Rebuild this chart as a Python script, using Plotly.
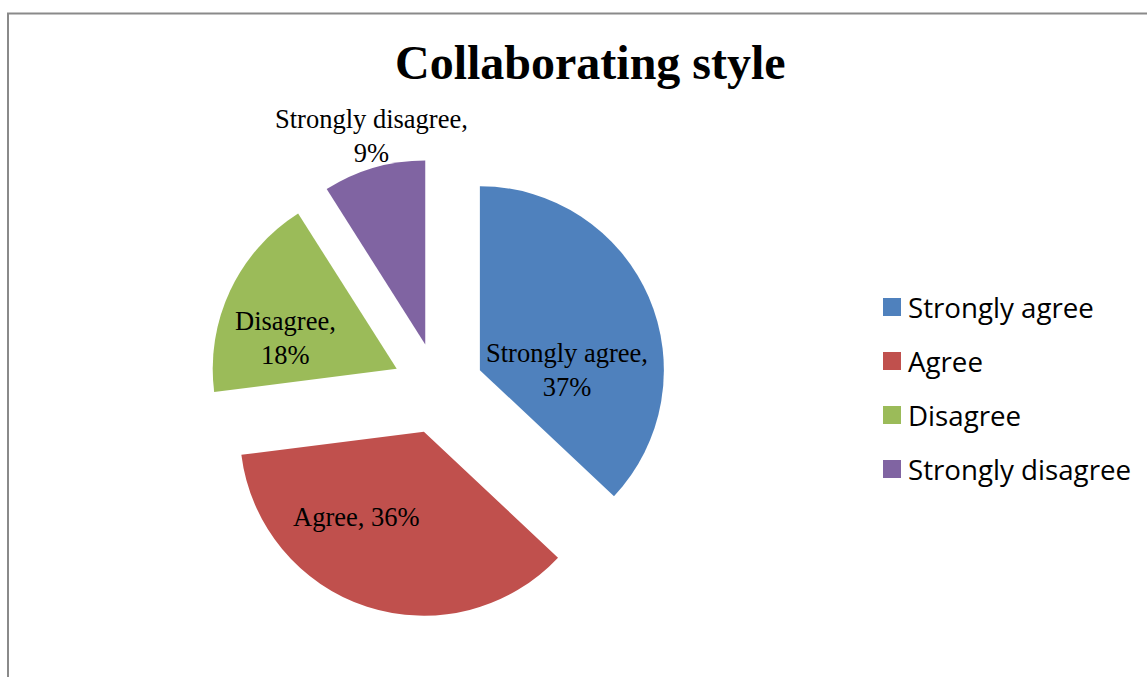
import math
import plotly.graph_objects as go

# ---- data -------------------------------------------------------------
categories = ["Strongly agree", "Agree", "Disagree", "Strongly disagree"]
percentages = [37, 36, 18, 9]
colors = ["#4F81BD", "#C0504D", "#9BBB59", "#8064A2"]
title_text = "Collaborating style"

# ---- layout constants (pixels) ----------------------------------------
W, H = 1147, 677
CX, CY = 438.0, 388.3      # pie centre
R = 184.0                  # slice radius
PULL = 0.248               # explode fraction for every slice
HALF = R * (1 + PULL)

SERIF = "Liberation Serif, Times New Roman, serif"
SANS = "Open Sans, sans-serif"

# label placement: (angle offset from slice middle in deg, distance / R, line break)
label_place = [(15.5, 0.71, True), (14.4, 0.83, False), (-7.0, 0.875, True), (1.4, 1.42, True)]

fig = go.Figure()
fig.add_trace(go.Pie(
    labels=categories,
    values=percentages,
    sort=False,
    direction="clockwise",
    rotation=0,
    pull=[PULL] * len(percentages),
    marker=dict(colors=colors, line=dict(width=0)),
    textinfo="none",
    hovertemplate="%{label}: %{value}%<extra></extra>",
    showlegend=False,
    domain=dict(x=[(CX - HALF) / W, (CX + HALF) / W],
                y=[1 - (CY + HALF) / H, 1 - (CY - HALF) / H]),
))

annotations = []
shapes = []

# data labels, placed around each slice's mid angle
total = sum(percentages)
cum = 0.0
for cat, val, (doff, dist, brk) in zip(categories, percentages, label_place):
    mid = (cum + val / 2) / total * 360.0
    cum += val
    th = math.radians(mid + doff)
    px = CX + dist * R * math.sin(th)
    py = CY - dist * R * math.cos(th)
    sep = ",<br>" if brk else ", "
    annotations.append(dict(
        x=px / W, y=1 - py / H, xref="paper", yref="paper",
        text=f"{cat}{sep}{val}%", showarrow=False,
        xanchor="center", yanchor="middle",
        font=dict(family=SERIF, size=26.5, color="#000000"),
    ))

# title
annotations.append(dict(
    x=590 / W, y=1 - 63 / H, xref="paper", yref="paper",
    text=f"<b>{title_text}</b>", showarrow=False,
    xanchor="center", yanchor="middle",
    font=dict(family=SERIF, size=48, color="#000000"),
))

# legend: colour swatches and entry names
LEG_Y0, LEG_STEP = 307, 54
for i, (cat, col) in enumerate(zip(categories, colors)):
    yc = LEG_Y0 + i * LEG_STEP
    shapes.append(dict(
        type="rect", xref="paper", yref="paper",
        x0=883 / W, x1=901 / W, y0=1 - (yc + 9) / H, y1=1 - (yc - 9) / H,
        fillcolor=col, line=dict(width=0),
    ))
    annotations.append(dict(
        x=906 / W, y=1 - yc / H, xref="paper", yref="paper",
        text=cat, showarrow=False, xanchor="left", yanchor="middle",
        font=dict(family=SANS, size=27.7, color="#000000"),
    ))

# chart-area frame
shapes.append(dict(
    type="rect", xref="paper", yref="paper",
    x0=8 / W, x1=1.05, y0=-0.05, y1=1 - 13.5 / H,
    line=dict(color="#8a8a8a", width=2), fillcolor="rgba(0,0,0,0)",
))

fig.update_layout(
    width=W, height=H,
    margin=dict(l=0, r=0, t=0, b=0),
    paper_bgcolor="white", plot_bgcolor="white",
    annotations=annotations, shapes=shapes,
    showlegend=False,
)

fig.write_html("out.html")
